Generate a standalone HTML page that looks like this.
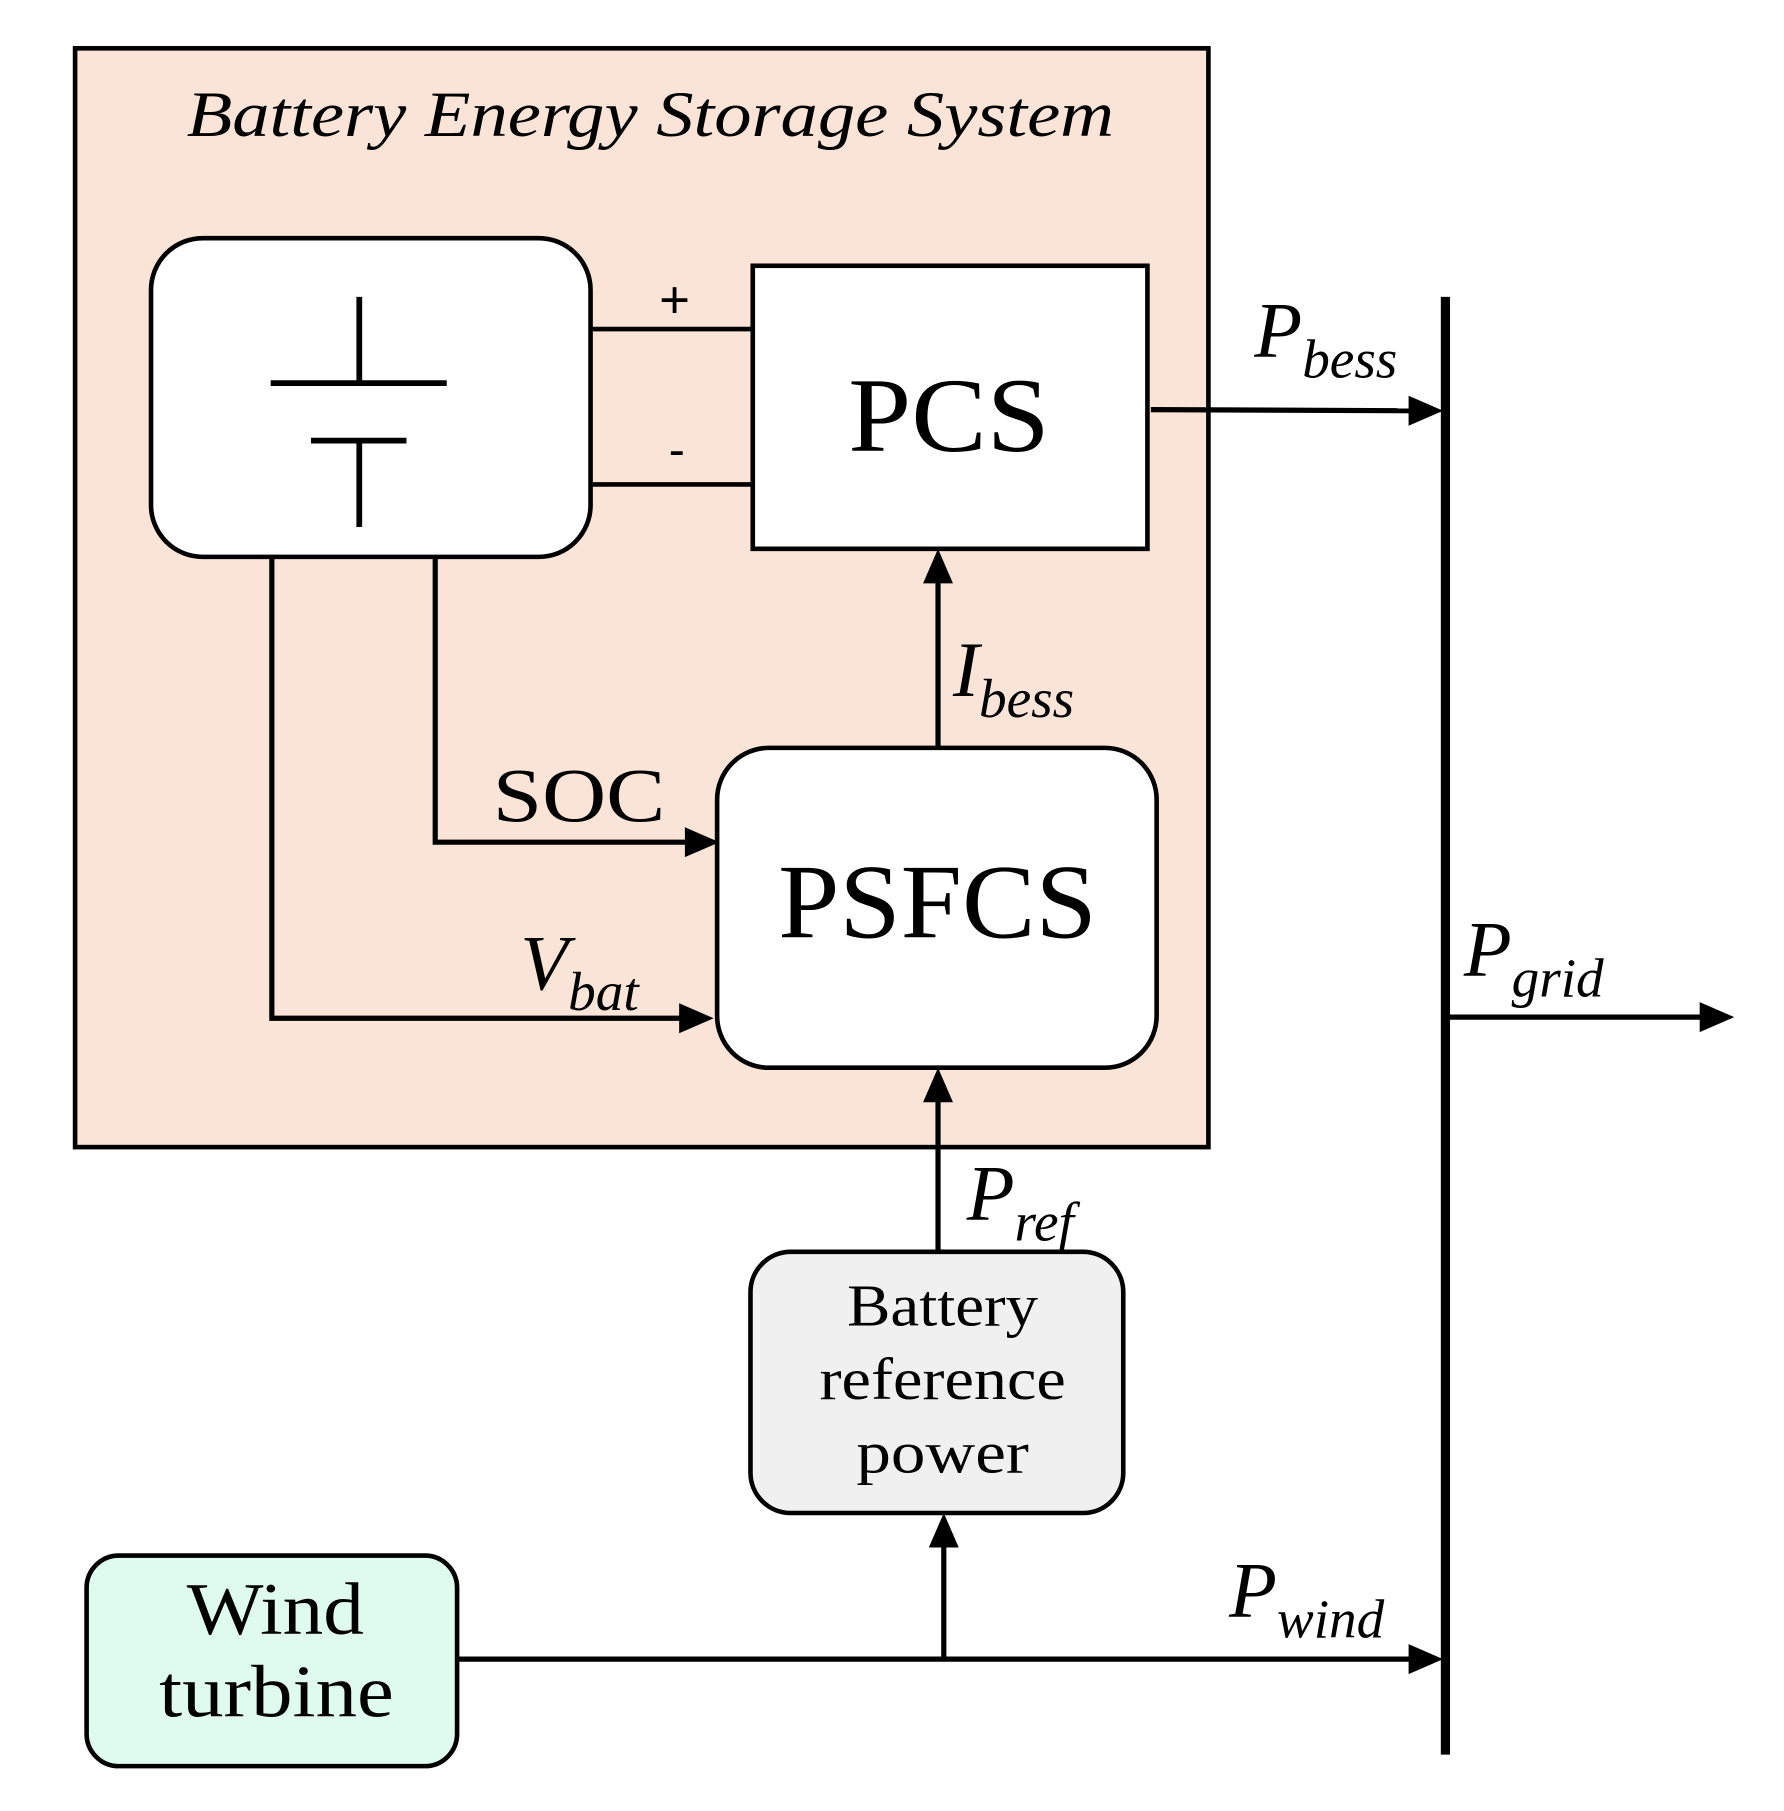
<!DOCTYPE html>
<html><head><meta charset="utf-8"><style>html,body{margin:0;padding:0;background:#fff}svg{display:block}</style></head>
<body>
<svg width="1784" height="1811" viewBox="0 0 1550 1574" xmlns="http://www.w3.org/2000/svg" font-family="'Liberation Serif', serif">
<rect x="65" y="42" width="985" height="955" fill="#fae3d7" stroke="#000" stroke-width="4"/>
<text x="162" y="118" font-size="56" font-style="italic" textLength="806" lengthAdjust="spacingAndGlyphs">Battery Energy Storage System</text>
<rect x="131" y="207" width="382" height="277" rx="45" fill="#fff" stroke="#000" stroke-width="4"/>
<g stroke="#000" stroke-width="5">
<line x1="312" y1="258" x2="312" y2="333"/>
<line x1="235" y1="333" x2="388" y2="333"/>
<line x1="270" y1="383" x2="353" y2="383"/>
<line x1="312" y1="383" x2="312" y2="458"/>
<line x1="513" y1="286" x2="654" y2="286" stroke-width="4"/>
<line x1="513" y1="421" x2="654" y2="421" stroke-width="4"/>
</g>
<text x="586" y="276" font-size="46" font-family="'Liberation Sans',sans-serif" text-anchor="middle">+</text>
<text x="588" y="405" font-size="42" font-family="'Liberation Sans',sans-serif" text-anchor="middle">-</text>
<rect x="654" y="231" width="343" height="246" fill="#fff" stroke="#000" stroke-width="4"/>
<text x="737" y="392" font-size="92" textLength="175" lengthAdjust="spacingAndGlyphs">PCS</text>
<rect x="623" y="650" width="382" height="278" rx="45" fill="#fff" stroke="#000" stroke-width="4"/>
<text x="676" y="815" font-size="92" textLength="277" lengthAdjust="spacingAndGlyphs">PSFCS</text>
<g stroke="#000" stroke-width="4.5" fill="none">
<line x1="1000" y1="356" x2="1230" y2="357"/>
<line x1="815" y1="650" x2="815" y2="500"/>
<polyline points="378,484 378,732 600,732"/>
<polyline points="236,484 236,885 595,885"/>
<line x1="815" y1="1088" x2="815" y2="952"/>
<line x1="397" y1="1442" x2="1230" y2="1442"/>
<line x1="820" y1="1442" x2="820" y2="1340"/>
<line x1="1260" y1="884" x2="1482" y2="884"/>
</g>
<line x1="1256" y1="258" x2="1256" y2="1525" stroke="#000" stroke-width="8"/>
<g fill="#000">
<polygon points="1254,357 1224,344 1224,370"/>
<polygon points="815,477 802,507 828,507"/>
<polygon points="625,732 595,719 595,745"/>
<polygon points="620,885 590,872 590,898"/>
<polygon points="815,928 802,958 828,958"/>
<polygon points="1254,1442 1224,1429 1224,1455"/>
<polygon points="820,1315 807,1345 833,1345"/>
<polygon points="1507,884 1477,871 1477,897"/>
</g>
<g font-style="italic">
<text x="1090" y="310" font-size="68">P<tspan font-size="48" dy="18">bess</tspan></text>
<text x="828" y="605" font-size="68">I<tspan font-size="48" dy="18">bess</tspan></text>
<text x="452" y="860" font-size="68">V<tspan font-size="48" dy="18">bat</tspan></text>
<text x="840" y="1060" font-size="68">P<tspan font-size="48" dy="18">ref</tspan></text>
<text x="1068" y="1405" font-size="68">P<tspan font-size="48" dy="18">wind</tspan></text>
<text x="1272" y="848" font-size="68">P<tspan font-size="48" dy="18">grid</tspan></text>
</g>
<text x="428" y="714" font-size="66" textLength="150" lengthAdjust="spacingAndGlyphs">SOC</text>
<rect x="652" y="1088" width="324" height="227" rx="35" fill="#f0f0f0" stroke="#000" stroke-width="4"/>
<g font-size="52">
<text x="736" y="1152" textLength="166" lengthAdjust="spacingAndGlyphs">Battery</text>
<text x="712" y="1216" textLength="214" lengthAdjust="spacingAndGlyphs">reference</text>
<text x="744" y="1280" textLength="150" lengthAdjust="spacingAndGlyphs">power</text>
</g>
<rect x="75" y="1352" width="322" height="183" rx="28" fill="#dffaee" stroke="#000" stroke-width="4"/>
<g font-size="64">
<text x="162" y="1420" textLength="154" lengthAdjust="spacingAndGlyphs">Wind</text>
<text x="138" y="1492" textLength="204" lengthAdjust="spacingAndGlyphs">turbine</text>
</g>
</svg>
</body></html>
